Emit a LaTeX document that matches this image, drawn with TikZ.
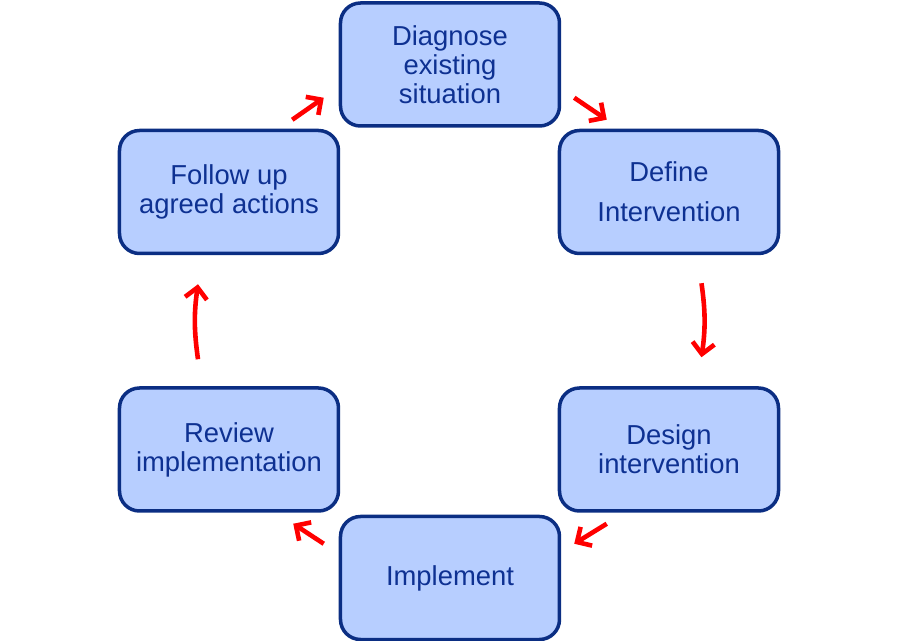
\documentclass[tikz,border=0pt]{standalone}
\usepackage{fontspec}
\setmainfont{Liberation Sans}
\usetikzlibrary{arrows.meta,positioning}
\definecolor{boxfill}{HTML}{B7CEFF}
\definecolor{boxline}{HTML}{0B2E83}
\definecolor{boxtext}{HTML}{0E3192}

\begin{document}
\begin{tikzpicture}[->, >={Straight Barb[length=5.5pt,width=11pt]}, stage/.style = {draw=boxline, fill=boxfill, text=boxtext, line width=1.75pt, rounded corners=10pt, minimum width=109.5pt, minimum height=61.5pt, align=center, font=\fontsize{13.7}{14.5}\selectfont}, flow/.style = {red, line width=2.3pt}]
  \useasboundingbox (-225pt,32.25pt) rectangle (225pt,-288.25pt);
  % Nodes
  \node[stage] (diagnose) at (0,0) {Diagnose\\existing\\situation};
  \node[stage] (define) [below right=0.5pt and -1.75pt of diagnose] {Define\\[5.5pt]Intervention};
  \node[stage] (design) [below=65.5pt of define] {Design\\intervention};
  \node[stage] (implement) [below left=1pt and -1.75pt of design] {Implement};
  \node[stage] (review) [above left=1pt and -0.75pt of implement] {Review\\implementation};
  \node[stage] (follow) [above=65.5pt of review] {\raisebox{-2pt}{Follow up}\\\raisebox{-2pt}{agreed actions}};

  % Paths
  \path[flow]
        ([shift={(-24pt,4.5pt)}]follow.north east) edge ([shift={(-7.5pt,15pt)}]diagnose.south west)
        ([shift={(6.5pt,15pt)}]diagnose.south east) edge ([shift={(24.5pt,4.5pt)}]define.north west)
        ([shift={(16.25pt,-14pt)}]define.south) edge[bend left=8] ([shift={(16.25pt,14.5pt)}]design.north)
        ([shift={(24.5pt,-5.5pt)}]design.south west) edge ([shift={(6.5pt,-14.5pt)}]implement.north east)
        ([shift={(-7.5pt,-14.5pt)}]implement.north west) edge ([shift={(-23.5pt,-5.5pt)}]review.south east)
        ([shift={(-15.5pt,13.5pt)}]review.north) edge[bend left=8] ([shift={(-15.5pt,-14.5pt)}]follow.south);
\end{tikzpicture}
\end{document}
